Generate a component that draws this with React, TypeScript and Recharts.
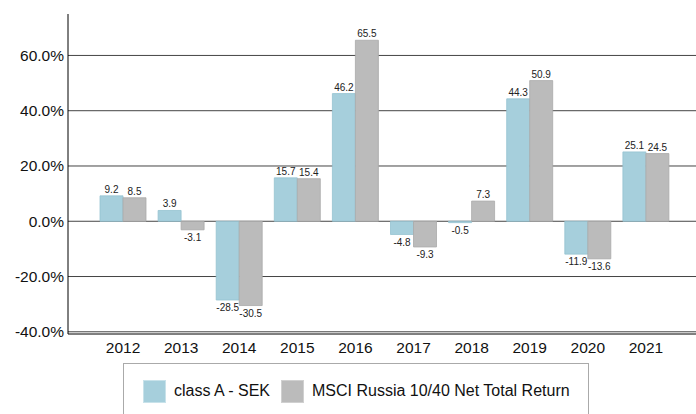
import React from 'react';
import { BarChart, Bar, XAxis, YAxis, CartesianGrid, LabelList } from 'recharts';

const YEARS = ['2012', '2013', '2014', '2015', '2016', '2017', '2018', '2019', '2020', '2021'];
const CLASS_A = [9.2, 3.9, -28.5, 15.7, 46.2, -4.8, -0.5, 44.3, -11.9, 25.1];
const MSCI = [8.5, -3.1, -30.5, 15.4, 65.5, -9.3, 7.3, 50.9, -13.6, 24.5];
const Y_TICKS = [-40, -20, 0, 20, 40, 60];

const data = YEARS.map((year, i) => ({
  year,
  classA: CLASS_A[i],
  msci: MSCI[i],
}));

const FONT = '"Liberation Sans", Arial, sans-serif';

function ValueLabel(props: any) {
  const { x, y, width, height, value } = props;
  const neg = value < 0;
  const cx = x + width / 2;
  const top = Math.min(y, y + height);
  const bottom = Math.max(y, y + height);
  return (
    <text
      x={cx}
      y={neg ? bottom + 11 : top - 3}
      textAnchor="middle"
      fontSize={10}
      fontFamily={FONT}
      fill="#222"
    >
      {value.toFixed(1)}
    </text>
  );
}

export default function App() {
  return (
    <div style={{ position: 'absolute', left: 0, top: 0, width: 696, height: 414, background: '#fff', overflow: 'hidden', fontFamily: FONT }}>
      <BarChart
        width={696}
        height={370}
        data={data}
        margin={{ top: 14, right: 0, bottom: 0, left: 0 }}
        barGap={0}
        barSize={23}
      >
        <CartesianGrid vertical={false} horizontalValues={Y_TICKS} stroke="#444" strokeWidth={1} fill="none" />
        <XAxis
          dataKey="year"
          height={36}
          padding={{ left: 26, right: 21 }}
          axisLine={{ stroke: '#000' }}
          tickLine={false}
          tick={{ fontSize: 15.5, fill: '#111', fontFamily: FONT }}
          tickMargin={2}
        />
        <YAxis
          width={68}
          domain={[-40.8, 75]}
          ticks={Y_TICKS}
          allowDataOverflow
          axisLine={{ stroke: '#000' }}
          tickLine={false}
          tickSize={4}
          tickFormatter={(v: number) => `${v.toFixed(1)}%`}
          tick={{ fontSize: 15.5, fill: '#111', fontFamily: FONT }}
          tickMargin={0}
        />
        <Bar dataKey="classA" fill="#a6cfdc" stroke="#95c3d1" strokeWidth={0.8} isAnimationActive={false}>
          <LabelList dataKey="classA" content={ValueLabel} />
        </Bar>
        <Bar dataKey="msci" fill="#bbbbbb" stroke="#aaaaaa" strokeWidth={0.8} isAnimationActive={false}>
          <LabelList dataKey="msci" content={ValueLabel} />
        </Bar>
      </BarChart>
      <div
        style={{
          position: 'absolute',
          left: 123,
          top: 363,
          width: 466,
          height: 70,
          border: '1px solid #aaa',
          boxSizing: 'border-box',
        }}
      >
        <div style={{ position: 'absolute', left: 19, top: 16, width: 23, height: 23, background: '#a6cfdc', boxSizing: 'border-box', border: '1px solid #c8e2ea' }} />
        <div style={{ position: 'absolute', left: 50, top: 18, fontSize: 16, color: '#111', whiteSpace: 'nowrap' }}>class A - SEK</div>
        <div style={{ position: 'absolute', left: 157, top: 16, width: 23, height: 23, background: '#bbbbbb', boxSizing: 'border-box', border: '1px solid #d0d0d0' }} />
        <div style={{ position: 'absolute', left: 188, top: 18, fontSize: 16, color: '#111', whiteSpace: 'nowrap' }}>MSCI Russia 10/40 Net Total Return</div>
      </div>
    </div>
  );
}
